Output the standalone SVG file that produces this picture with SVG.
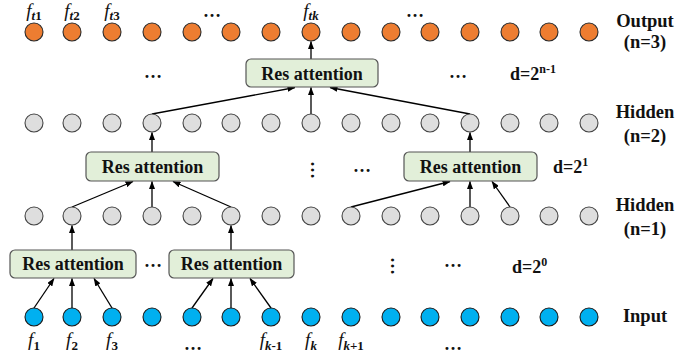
<svg xmlns="http://www.w3.org/2000/svg" width="678" height="360" viewBox="0 0 678 360">
<defs>
<style>
.o{fill:#ED7D31;stroke:#2a2a2a;stroke-width:1.1}
.g{fill:#DEDEDE;stroke:#444;stroke-width:1.1}
.b{fill:#00B0F0;stroke:#1a1a1a;stroke-width:1.1}
.box{fill:#E2EFD9;stroke:#555;stroke-width:1.2}
.bt{font-family:"Liberation Serif","Times New Roman",serif;font-weight:bold;font-size:18px;text-anchor:middle;fill:#111}
.lab{font-family:"Liberation Serif","Times New Roman",serif;font-weight:bold;font-size:18.5px;text-anchor:middle;fill:#111}
.d{font-family:"Liberation Serif","Times New Roman",serif;font-weight:bold;font-size:18px;fill:#111}
.sup{font-size:12px}
.dots{font-family:"Liberation Serif","Times New Roman",serif;font-weight:bold;font-size:18px;text-anchor:middle;fill:#111}
.f{font-family:"Liberation Serif","Times New Roman",serif;font-style:italic;font-size:19px;text-anchor:middle;fill:#111}
.sub{font-size:13px;font-weight:bold}
.c line{stroke:#000;stroke-width:1.3;marker-end:url(#ah)}
</style>
<marker id="ah" markerUnits="userSpaceOnUse" markerWidth="8" markerHeight="6" refX="7.5" refY="3" orient="auto">
<path d="M0,0 L8,3 L0,6 z" fill="#000"/>
</marker>
</defs>
<rect width="678" height="360" fill="#fff"/>

<g id="connectors" class="c">
<line x1="311" y1="59" x2="311" y2="41.5"/>
<line x1="152" y1="114" x2="295" y2="87.5"/>
<line x1="311" y1="114" x2="311" y2="87.5"/>
<line x1="470" y1="114" x2="330" y2="87.5"/>
<line x1="152" y1="152" x2="152" y2="132.5"/>
<line x1="470" y1="152" x2="470" y2="132.5"/>
<line x1="72" y1="207" x2="133" y2="181.5"/>
<line x1="152" y1="207" x2="152" y2="181.5"/>
<line x1="231" y1="207" x2="173" y2="181.5"/>
<line x1="351" y1="207" x2="450" y2="181.5"/>
<line x1="470" y1="207" x2="470" y2="181.5"/>
<line x1="510" y1="207" x2="492" y2="181.5"/>
<line x1="72" y1="250" x2="72" y2="225.5"/>
<line x1="231" y1="250" x2="231" y2="225.5"/>
<line x1="34" y1="308" x2="54" y2="278.5"/>
<line x1="72" y1="308" x2="72" y2="278.5"/>
<line x1="112" y1="308" x2="94" y2="278.5"/>
<line x1="192" y1="308" x2="213" y2="278.5"/>
<line x1="231" y1="308" x2="231" y2="278.5"/>
<line x1="271" y1="308" x2="250" y2="278.5"/>
</g>

<g id="output-row">
<circle class="o" cx="34" cy="32" r="9"/><circle class="o" cx="72" cy="32" r="9"/><circle class="o" cx="112" cy="32" r="9"/><circle class="o" cx="152" cy="32" r="9"/><circle class="o" cx="192" cy="32" r="9"/><circle class="o" cx="231" cy="32" r="9"/><circle class="o" cx="271" cy="32" r="9"/><circle class="o" cx="311" cy="32" r="9"/><circle class="o" cx="351" cy="32" r="9"/><circle class="o" cx="391" cy="32" r="9"/><circle class="o" cx="430" cy="32" r="9"/><circle class="o" cx="470" cy="32" r="9"/><circle class="o" cx="510" cy="32" r="9"/><circle class="o" cx="549" cy="32" r="9"/><circle class="o" cx="589" cy="32" r="9"/>
</g>
<g id="hidden2-row">
<circle class="g" cx="34" cy="123" r="9"/><circle class="g" cx="72" cy="123" r="9"/><circle class="g" cx="112" cy="123" r="9"/><circle class="g" cx="152" cy="123" r="9"/><circle class="g" cx="192" cy="123" r="9"/><circle class="g" cx="231" cy="123" r="9"/><circle class="g" cx="271" cy="123" r="9"/><circle class="g" cx="311" cy="123" r="9"/><circle class="g" cx="351" cy="123" r="9"/><circle class="g" cx="391" cy="123" r="9"/><circle class="g" cx="430" cy="123" r="9"/><circle class="g" cx="470" cy="123" r="9"/><circle class="g" cx="510" cy="123" r="9"/><circle class="g" cx="549" cy="123" r="9"/><circle class="g" cx="589" cy="123" r="9"/>
</g>
<g id="hidden1-row">
<circle class="g" cx="34" cy="216" r="9"/><circle class="g" cx="72" cy="216" r="9"/><circle class="g" cx="112" cy="216" r="9"/><circle class="g" cx="152" cy="216" r="9"/><circle class="g" cx="192" cy="216" r="9"/><circle class="g" cx="231" cy="216" r="9"/><circle class="g" cx="271" cy="216" r="9"/><circle class="g" cx="311" cy="216" r="9"/><circle class="g" cx="351" cy="216" r="9"/><circle class="g" cx="391" cy="216" r="9"/><circle class="g" cx="430" cy="216" r="9"/><circle class="g" cx="470" cy="216" r="9"/><circle class="g" cx="510" cy="216" r="9"/><circle class="g" cx="549" cy="216" r="9"/><circle class="g" cx="589" cy="216" r="9"/>
</g>
<g id="input-row">
<circle class="b" cx="34" cy="317" r="9"/><circle class="b" cx="72" cy="317" r="9"/><circle class="b" cx="112" cy="317" r="9"/><circle class="b" cx="152" cy="317" r="9"/><circle class="b" cx="192" cy="317" r="9"/><circle class="b" cx="231" cy="317" r="9"/><circle class="b" cx="271" cy="317" r="9"/><circle class="b" cx="311" cy="317" r="9"/><circle class="b" cx="351" cy="317" r="9"/><circle class="b" cx="391" cy="317" r="9"/><circle class="b" cx="430" cy="317" r="9"/><circle class="b" cx="470" cy="317" r="9"/><circle class="b" cx="510" cy="317" r="9"/><circle class="b" cx="549" cy="317" r="9"/><circle class="b" cx="589" cy="317" r="9"/>
</g>

<g id="res-top"><rect class="box" x="246" y="59" width="132" height="28" rx="5"/><text class="bt" x="312" y="80">Res attention</text></g>
<g id="res-h2-left"><rect class="box" x="86" y="152" width="133" height="29" rx="5"/><text class="bt" x="152.5" y="173">Res attention</text></g>
<g id="res-h2-right"><rect class="box" x="404" y="152" width="133" height="29" rx="5"/><text class="bt" x="470.5" y="173">Res attention</text></g>
<g id="res-h1-left"><rect class="box" x="10" y="250" width="126" height="28" rx="5"/><text class="bt" x="73" y="270">Res attention</text></g>
<g id="res-h1-right"><rect class="box" x="169" y="250" width="125" height="28" rx="5"/><text class="bt" x="231.5" y="270">Res attention</text></g>

<g id="labels">
<text class="lab" x="645" y="27">Output</text>
<text class="lab" x="645" y="48">(n=3)</text>
<text class="lab" x="645" y="118">Hidden</text>
<text class="lab" x="645" y="142">(n=2)</text>
<text class="lab" x="645" y="211">Hidden</text>
<text class="lab" x="645" y="235">(n=1)</text>
<text class="lab" x="645" y="322">Input</text>
<text class="d" x="510" y="80">d=2<tspan class="sup" dy="-7">n-1</tspan></text>
<text class="d" x="553" y="173">d=2<tspan class="sup" dy="-7">1</tspan></text>
<text class="d" x="512" y="273">d=2<tspan class="sup" dy="-7">0</tspan></text>
</g>

<g id="ellipses">
<text class="dots" x="212" y="16.5">…</text>
<text class="dots" x="415" y="16.5">…</text>
<text class="dots" x="153" y="78">…</text>
<text class="dots" x="458" y="78">…</text>
<text class="dots" x="362" y="172">…</text>
<text class="dots" x="153" y="267">…</text>
<text class="dots" x="453" y="267">…</text>
<text class="dots" x="193" y="350">…</text>
<text class="dots" x="453" y="350">…</text>
<text class="dots" transform="translate(312,170) rotate(90)" x="0" y="1">…</text>
<text class="dots" transform="translate(392,266) rotate(90)" x="0" y="1">…</text>
</g>

<g id="f-labels">
<text class="f" x="34" y="17">f<tspan class="sub" dy="3">t</tspan><tspan class="sub" font-style="normal">1</tspan></text>
<text class="f" x="72" y="17">f<tspan class="sub" dy="3">t</tspan><tspan class="sub" font-style="normal">2</tspan></text>
<text class="f" x="112" y="17">f<tspan class="sub" dy="3">t</tspan><tspan class="sub" font-style="normal">3</tspan></text>
<text class="f" x="311" y="17">f<tspan class="sub" dy="3">tk</tspan></text>
<text class="f" x="34" y="346">f<tspan class="sub" dy="4" font-style="normal">1</tspan></text>
<text class="f" x="72" y="346">f<tspan class="sub" dy="4" font-style="normal">2</tspan></text>
<text class="f" x="112" y="346">f<tspan class="sub" dy="4" font-style="normal">3</tspan></text>
<text class="f" x="271" y="346">f<tspan class="sub" dy="4">k</tspan><tspan class="sub" font-style="normal">-1</tspan></text>
<text class="f" x="311" y="346">f<tspan class="sub" dy="4">k</tspan></text>
<text class="f" x="351" y="346">f<tspan class="sub" dy="4">k</tspan><tspan class="sub" font-style="normal">+1</tspan></text>
</g>
</svg>
